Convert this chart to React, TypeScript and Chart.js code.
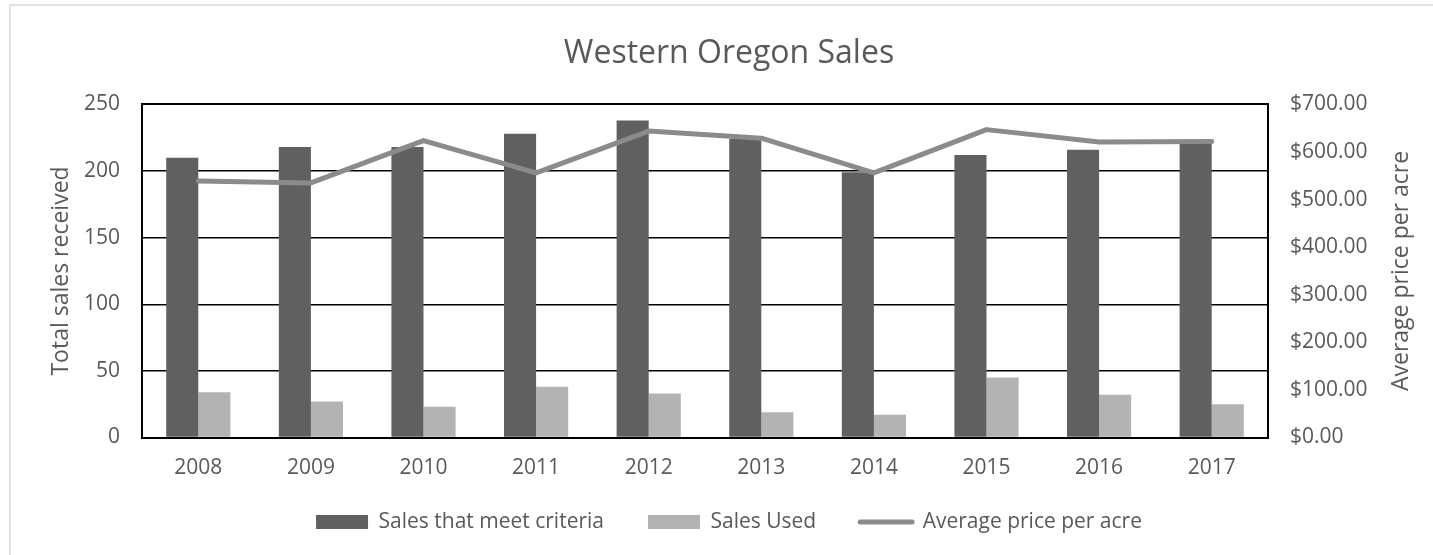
import React, { useEffect, useRef } from 'react';
import { Chart, registerables } from 'chart.js';

Chart.register(...registerables);

const years = ['2008', '2009', '2010', '2011', '2012', '2013', '2014', '2015', '2016', '2017'];
const salesMeetCriteria = [210, 218, 218, 228, 238, 224, 199, 212, 216, 221];
const salesUsed = [34, 27, 23, 38, 33, 19, 17, 45, 32, 25];
const avgPricePerAcre = [539, 535, 624, 556, 644, 629, 556, 647, 621, 622];

const leftAxisMax = 250;
const leftAxisStep = 50;
const rightAxisMax = 700;
const rightAxisStep = 100;

const chartTitle = 'Western Oregon Sales';
const leftAxisTitle = 'Total sales received';
const rightAxisTitle = 'Average price per acre';

const TEXT = '#595959';
const DARK = '#606060';
const LIGHT = '#b3b3b3';
const LINE = '#8b8b8b';
const FONT = "'Open Sans', sans-serif";

const framePlugin = {
  id: 'frame',
  beforeDraw(chart: any) {
    const c = chart.ctx;
    c.save();
    c.strokeStyle = '#d9d9d9';
    c.lineWidth = 1.5;
    c.strokeRect(10, 5, chart.width + 20, chart.height + 20);
    c.restore();
  },
};

// right axis title reads bottom-to-top (like the left one)
const rightTitlePlugin = {
  id: 'rightTitle',
  afterDraw(chart: any) {
    const scale = chart.scales.y1;
    const area = chart.chartArea;
    const c = chart.ctx;
    c.save();
    c.translate(scale.right - 32, (area.top + area.bottom) / 2);
    c.rotate(-Math.PI / 2);
    c.textAlign = 'center';
    c.textBaseline = 'middle';
    c.fillStyle = TEXT;
    c.font = `23px ${FONT}`;
    c.fillText(rightAxisTitle, 0, 0);
    c.restore();
  },
};

export default function App() {
  const ref = useRef<HTMLCanvasElement | null>(null);

  useEffect(() => {
    document.body.style.margin = '0';
    if (!ref.current) return;
    Chart.defaults.font.family = FONT;
    Chart.defaults.color = TEXT;

    const chart = new Chart(ref.current, {
      type: 'bar',
      data: {
        labels: years,
        datasets: [
          {
            type: 'bar',
            label: 'Sales that meet criteria',
            data: salesMeetCriteria,
            backgroundColor: DARK,
            borderWidth: 0,
            yAxisID: 'y',
            order: 1,
            categoryPercentage: 0.57,
            barPercentage: 1.0,
          },
          {
            type: 'bar',
            label: 'Sales Used',
            data: salesUsed,
            backgroundColor: LIGHT,
            borderWidth: 0,
            yAxisID: 'y',
            order: 1,
            categoryPercentage: 0.57,
            barPercentage: 1.0,
          },
          {
            type: 'line',
            label: 'Average price per acre',
            data: avgPricePerAcre,
            borderColor: LINE,
            backgroundColor: LINE,
            borderWidth: 5,
            borderCapStyle: 'round',
            borderJoinStyle: 'round',
            pointRadius: 0,
            tension: 0,
            yAxisID: 'y1',
            order: 0,
          } as any,
        ],
      },
      options: {
        responsive: true,
        maintainAspectRatio: false,
        animation: false,
        layout: { padding: { top: 0, left: 25, right: 0, bottom: 12.5 } },
        plugins: {
          tooltip: { enabled: false },
          title: {
            display: true,
            text: chartTitle,
            color: TEXT,
            font: { size: 32, weight: 'normal' },
            padding: { top: 35, bottom: 31 },
          },
          legend: {
            position: 'bottom',
            labels: {
              usePointStyle: true,
              pointStyleWidth: 52,
              boxHeight: 14,
              padding: 44,
              color: TEXT,
              font: { size: 21 },
              sort: (a: any, b: any) => a.datasetIndex - b.datasetIndex,
              generateLabels: (ch: any) => {
                const items = (Chart.defaults.plugins.legend.labels as any).generateLabels(ch);
                return items.map((it: any) => ({
                  ...it,
                  pointStyle: it.datasetIndex === 2 ? 'line' : 'rect',
                  lineWidth: it.datasetIndex === 2 ? 5 : 0,
                  lineCap: 'round',
                }));
              },
            },
          },
        },
        scales: {
          x: {
            z: 1,
            grid: { display: false, drawTicks: false },
            border: { display: true, color: '#000', width: 2 },
            ticks: { padding: 18, color: TEXT, font: { size: 21 } },
            afterFit: (s: any) => {
              s.height = 30;
              s._computeLabelArea = () => undefined;
            },
          },
          y: {
            position: 'left',
            min: 0,
            max: leftAxisMax,
            ticks: { stepSize: leftAxisStep, padding: 22, color: TEXT, font: { size: 21 } },
            grid: {
              color: '#000',
              lineWidth: (ctx: any) => (ctx.tick && ctx.tick.value === leftAxisMax ? 2 : 1.5),
              drawTicks: false,
            },
            border: { display: true, color: '#000', width: 2 },
            title: {
              display: true,
              text: leftAxisTitle,
              color: TEXT,
              font: { size: 23 },
              padding: { top: 23, bottom: 0 },
            },
            afterFit: (s: any) => {
              s.width = 117;
            },
          },
          y1: {
            position: 'right',
            min: 0,
            max: rightAxisMax,
            ticks: {
              stepSize: rightAxisStep,
              padding: 22,
              color: TEXT,
              font: { size: 21 },
              callback: (v: any) => '$' + Number(v).toFixed(2),
            },
            grid: { display: false, drawTicks: false },
            border: { display: true, color: '#000', width: 2 },
            title: { display: false },
            afterFit: (s: any) => {
              s.width = 165;
            },
          },
        },
      },
      plugins: [framePlugin, rightTitlePlugin],
    });

    return () => chart.destroy();
  }, []);

  return (
    <div style={{ position: 'relative', width: '1433px', height: '555px' }}>
      <canvas ref={ref} />
    </div>
  );
}
